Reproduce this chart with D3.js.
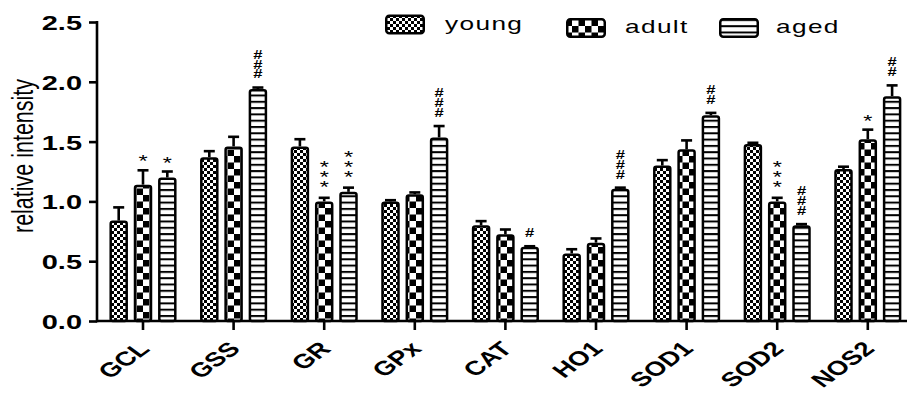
<!DOCTYPE html>
<html>
<head>
<meta charset="utf-8">
<script src="https://cdn.jsdelivr.net/npm/d3@7"></script>
<style>
  html, body { margin: 0; padding: 0; background: #fff; }
  svg { display: block; }
  text { font-family: "Liberation Sans", Arial, sans-serif; fill: #000; }
  text.mark-stack { writing-mode: vertical-rl; text-orientation: upright; }
</style>
</head>
<body>
<svg id="chart" width="907" height="393"></svg>
<script>
// Genes measured
const categories = ["GCL", "GSS", "GR", "GPx", "CAT", "HO1", "SOD1", "SOD2", "NOS2"];
const seriesNames = ["young", "adult", "aged"];

// Mean relative intensity per group
const youngValues = [0.84, 1.37, 1.46, 1.00, 0.80, 0.565, 1.30, 1.48, 1.27];
const adultValues = [1.14, 1.46, 1.00, 1.06, 0.725, 0.655, 1.435, 1.00, 1.52];
const agedValues  = [1.20, 1.94, 1.08, 1.535, 0.62, 1.105, 1.72, 0.80, 1.88];

// Upper error (SEM)
const youngErrors = [0.11, 0.05, 0.06, 0.01, 0.035, 0.035, 0.045, 0.01, 0.02];
const adultErrors = [0.12, 0.08, 0.03, 0.015, 0.04, 0.035, 0.075, 0.03, 0.08];
const agedErrors  = [0.05, 0.012, 0.035, 0.095, 0.005, 0.01, 0.02, 0.01, 0.09];

// Significance marks
const youngMarks = ["", "", "", "", "", "", "", "", ""];
const adultMarks = ["*", "", "***", "", "", "", "", "***", "*"];
const agedMarks  = ["*", "###", "***", "###", "#", "###", "##", "###", "##"];

const yTicks = [0, 0.5, 1.0, 1.5, 2.0, 2.5];

const seriesValues = [youngValues, adultValues, agedValues];
const seriesErrors = [youngErrors, adultErrors, agedErrors];
const seriesMarks = [youngMarks, adultMarks, agedMarks];

const SX = 1.38; // horizontal stretch of all lettering

const svg = d3.select("#chart");
const axisX = 97, baseY = 321;

const y = d3.scaleLinear().domain([0, 2.5]).range([baseY, 22]);
const x0 = d3.scaleBand().domain(categories).range([97.7, 913.1]).paddingInner(0).paddingOuter(0);
const x1 = d3.scaleBand().domain(seriesNames).range([-33.55, 33.55]).paddingInner(0.239).paddingOuter(0);

// Fill patterns
const defs = svg.append("defs");
const pYoung = defs.append("pattern").attr("id", "pat-young").attr("patternUnits", "userSpaceOnUse")
  .attr("width", 6).attr("height", 6);
pYoung.append("rect").attr("width", 6).attr("height", 6).attr("fill", "#fff");
pYoung.append("rect").attr("x", 0).attr("y", 0).attr("width", 3).attr("height", 3).attr("fill", "#000");
pYoung.append("rect").attr("x", 3).attr("y", 3).attr("width", 3).attr("height", 3).attr("fill", "#000");

const pAdult = defs.append("pattern").attr("id", "pat-adult").attr("patternUnits", "userSpaceOnUse")
  .attr("width", 13).attr("height", 13);
pAdult.append("rect").attr("width", 13).attr("height", 13).attr("fill", "#fff");
pAdult.append("rect").attr("x", 0).attr("y", 0).attr("width", 6.5).attr("height", 6.5).attr("fill", "#000");
pAdult.append("rect").attr("x", 6.5).attr("y", 6.5).attr("width", 6.5).attr("height", 6.5).attr("fill", "#000");

const pAged = defs.append("pattern").attr("id", "pat-aged").attr("patternUnits", "userSpaceOnUse")
  .attr("width", 10).attr("height", 6.3);
pAged.append("rect").attr("width", 10).attr("height", 6.3).attr("fill", "#fff");
pAged.append("rect").attr("x", 0).attr("y", 0).attr("width", 10).attr("height", 2).attr("fill", "#000");

const fills = { young: "url(#pat-young)", adult: "url(#pat-adult)", aged: "url(#pat-aged)" };

// Bars
const rows = [];
seriesNames.forEach((s, si) => {
  categories.forEach((c, ci) => {
    rows.push({ cat: c, series: s, value: seriesValues[si][ci], err: seriesErrors[si][ci], mark: seriesMarks[si][ci] });
  });
});
const cx = d => x0(d.cat) + x0.bandwidth() / 2 + x1(d.series) + x1.bandwidth() / 2;

const g = svg.append("g");
// error bars (upper only)
g.selectAll("line.err").data(rows).join("line").attr("class", "err")
  .attr("x1", cx).attr("x2", cx)
  .attr("y1", d => y(d.value)).attr("y2", d => y(d.value + d.err))
  .attr("stroke", "#000").attr("stroke-width", 2.6);
g.selectAll("line.cap").data(rows).join("line").attr("class", "cap")
  .attr("x1", d => cx(d) - 5.5).attr("x2", d => cx(d) + 5.5)
  .attr("y1", d => y(d.value + d.err)).attr("y2", d => y(d.value + d.err))
  .attr("stroke", "#000").attr("stroke-width", 2.6);

g.selectAll("rect.bar").data(rows).join("rect").attr("class", "bar")
  .attr("x", d => cx(d) - x1.bandwidth() / 2 + 1.25)
  .attr("width", x1.bandwidth() - 2.5)
  .attr("y", d => y(d.value) + 1.25)
  .attr("height", d => y(0) - y(d.value) - 1.25)
  .attr("rx", 2)
  .attr("fill", d => fills[d.series])
  .attr("stroke", "#000").attr("stroke-width", 2.5);

// Significance marks: symbols stacked upright in a vertical run above the error cap
const marks = rows.filter(d => d.mark !== "");
marks.forEach(d => {
  const bottom = y(d.value + d.err) - 10;
  const isStar = d.mark[0] === "*";
  if (d.mark === "*") {
    g.append("text")
      .attr("transform", `translate(${cx(d)},${bottom + 0.42 * 17}) scale(${SX},1)`)
      .attr("text-anchor", "middle").attr("font-size", 17).text(d.mark);
    return;
  }
  const fs = isStar ? 17 : 12;
  const step = isStar ? 8 : 8.6;
  g.append("text").attr("class", "mark-stack")
    .attr("transform", `translate(${cx(d)},${bottom}) scale(${SX},1)`)
    .attr("text-anchor", "end")
    .attr("font-size", fs)
    .attr("font-weight", isStar ? "normal" : "bold")
    .attr("letter-spacing", step - fs)
    .text(d.mark);
});

// Y axis
const yAxis = d3.axisLeft(y).tickValues(yTicks).tickFormat(d3.format(".1f")).tickSize(8).tickSizeOuter(0);
const ya = svg.append("g").attr("transform", `translate(${axisX},0)`).call(yAxis);
ya.select(".domain").attr("stroke-width", 2.6).attr("d", `M0,${y(2.5) - 1}V${baseY + 1.3}`);
ya.selectAll(".tick line").attr("stroke-width", 2.6);
ya.selectAll(".tick text").attr("x", null).attr("dy", "0.36em")
  .attr("transform", `translate(-15,0) scale(${SX},1)`)
  .attr("font-size", 21).attr("font-weight", "bold")
  .attr("font-family", "Liberation Sans, Arial, sans-serif");

// X axis
const xAxis = d3.axisBottom(x0).tickSize(9).tickSizeOuter(0);
const xa = svg.append("g").attr("transform", `translate(0,${baseY})`).call(xAxis);
xa.select(".domain").attr("stroke-width", 2.6).attr("d", `M${axisX},0H907`);
xa.selectAll(".tick line").attr("stroke-width", 2.6);
xa.selectAll(".tick text")
  .attr("y", null).attr("dy", null)
  .attr("transform", `translate(8,29) scale(${SX},1) rotate(-45)`)
  .attr("text-anchor", "end")
  .attr("font-size", 20).attr("font-weight", "bold")
  .attr("font-family", "Liberation Sans, Arial, sans-serif");

// Y axis title
svg.append("text").attr("transform", `translate(33,156) scale(${SX},1) rotate(-90)`)
  .attr("text-anchor", "middle").attr("font-size", 21.5).text("relative intensity");

// Legend
const legendPos = [
  { x: 385, y: 14.5, tx: 445, ty: 30 },
  { x: 566, y: 18, tx: 625, ty: 33 },
  { x: 719, y: 18, tx: 776, ty: 33 }
];
const lg = svg.append("g");
seriesNames.forEach((s, i) => {
  const p = legendPos[i];
  lg.append("rect").attr("x", p.x + 1.25).attr("y", p.y + 1.25).attr("width", 37.5).attr("height", 17.5)
    .attr("rx", 3).attr("fill", fills[s]).attr("stroke", "#000").attr("stroke-width", 2.5);
  lg.append("text").attr("transform", `translate(${p.tx},${p.ty}) scale(${SX},1)`)
    .attr("font-size", 19).attr("letter-spacing", 1).text(s);
});
</script>
</body>
</html>
